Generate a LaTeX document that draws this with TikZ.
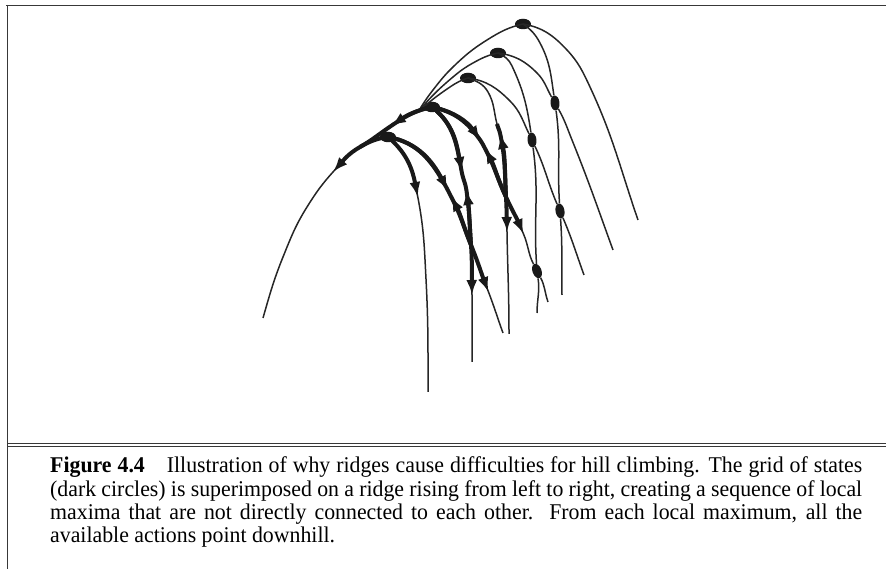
\documentclass[tikz,border=0pt]{standalone}
\usepackage{fontspec}
\setmainfont{Liberation Serif}
\newfontfamily\capfont{Liberation Serif}[FakeStretch=0.97]
\usetikzlibrary{arrows.meta, shapes.geometric}

\begin{document}
\begin{tikzpicture}[x=1pt, y=1pt,
    ridge/.style={line width=1.5pt, draw=black!85},
    act/.style={line width=4pt, draw=black!90},
    tip/.style={-{Latex[length=15pt,width=11pt]}},
    peak/.style={ellipse, fill=black!90, minimum width=16pt, minimum height=10.5pt, inner sep=0pt},
    state/.style={ellipse, fill=black!90, minimum width=9pt, minimum height=15pt, inner sep=0pt},
    frame/.style={line width=1.6pt, draw=black!78},
    caption/.style={text width=812pt, align=justify, inner sep=0pt,
        font=\capfont\fontsize{22.5}{23.2}\selectfont}
]
    \useasboundingbox (0,0) rectangle (886,569);
    % frame and rule above the caption
    \draw[frame] (6,563.3) -- (886,563.3);
    \draw[frame] (7.5,564.1) -- (7.5,0);
    \draw[frame, line width=1.3pt] (7.5,125.5) -- (886,125.5);
    \draw[frame, line width=1.3pt] (7.5,122.5) -- (886,122.5);

    % local maxima on the ridge
    \node[peak] (p1) at (388,432) {};
    \node[peak] (p2) at (432,462) {};
    \node[peak] (p3) at (468,491) {};
    \node[peak] (p4) at (498,516) {};
    \node[peak] (p5) at (523,545) {};
    % other grid states
    \node[state, rotate=5]  (z1) at (555,466) {};
    \node[state, rotate=6]  (z2) at (532,429) {};
    \node[state, rotate=10] (z3) at (560,358) {};
    \node[state, rotate=20] (z4) at (537,298) {};
    \coordinate (x1) at (471,324);
    \coordinate (y1) at (506,372);

    % points on the curves
    \coordinate (l1a) at (360,422);
    \coordinate (l1b) at (307,362);
    \coordinate (l1c) at (283,312);
    \coordinate (l1e) at (263,251);
    \coordinate (j2) at (418,457);
    \coordinate (l3a) at (450,482);
    \coordinate (l4a) at (473,506);
    \coordinate (l4b) at (453,492);
    \coordinate (l5a) at (487,529);
    \coordinate (l5b) at (453,502);
    \coordinate (l5c) at (433,479);
    \coordinate (s1m) at (426,290);
    \coordinate (s1e) at (428,177);
    \coordinate (s2e) at (472,207);
    \coordinate (w1e) at (503,236);
    \coordinate (s3a) at (488,477);
    \coordinate (s3b) at (497,445);
    \coordinate (s3e) at (509,235);
    \coordinate (w2e) at (548,267);
    \coordinate (w3a) at (510,468);
    \coordinate (w3e) at (584,294);
    \coordinate (s4a) at (512,503);
    \coordinate (s4e) at (537,256);
    \coordinate (w4a) at (537,496);
    \coordinate (w4b) at (572,429);
    \coordinate (w4e) at (613,319);
    \coordinate (s5a) at (540,526);
    \coordinate (s5e) at (562,274);
    \coordinate (w5a) at (567,519);
    \coordinate (w5b) at (590,482);
    \coordinate (w5e) at (638,349);

    % arrow tips
    \coordinate (a1) at (333,397);
    \coordinate (a2) at (391,443);
    \coordinate (a3) at (417.8,372);
    \coordinate (a4) at (448,378.5);
    \coordinate (a5) at (461.7,397);
    \coordinate (a6) at (480.5,428.5);
    \coordinate (a7) at (466.4,379);
    \coordinate (a8) at (451,372.5);
    \coordinate (a9) at (500.2,435);
    \coordinate (a10) at (485,420.5);
    \coordinate (a11) at (472,274);
    \coordinate (a12) at (488.5,277);
    \coordinate (a13) at (507,337);
    \coordinate (a14) at (523.5,335);

    % left flanks
    \draw[ridge] (p1.center) to[out=188,in=30] (l1a) to[out=210,in=48] (a1)
        to[out=228,in=58] (l1b) to[out=238,in=68] (l1c) to[out=248,in=74] (l1e);
    \draw[ridge] (p3.center) to[out=198,in=34] (l3a) to[out=214,in=42] (j2);
    \draw[ridge] (p4.center) to[out=192,in=29] (l4a) to[out=209,in=40] (l4b) to[out=220,in=50] (j2);
    \draw[ridge] (p5.center) to[out=193,in=32] (l5a) to[out=212,in=44] (l5b)
        to[out=224,in=52] (l5c) to[out=232,in=58] (j2);

    % right flanks
    \draw[ridge] (p1.center) to[out=-40,in=101] (a3) to[out=-79,in=93] (s1m) to[out=-87,in=90] (s1e);
    \draw[ridge] (p1.center) to[out=-10,in=118] (a4) to[out=-62,in=118] (a8)
        to[out=-62,in=112] (x1) to[out=-68,in=111] (a12) to[out=-69,in=110] (w1e);
    \draw[ridge] (p2.center) to[out=-38,in=100] (a5) to[out=-80,in=98] (a7)
        to[out=-82,in=94] (x1) to[out=-86,in=91] (a11) to[out=-89,in=90] (s2e);
    \draw[ridge] (p2.center) to[out=-12,in=125] (a6) to[out=-55,in=118] (a10)
        to[out=-62,in=115] (y1) to[out=-65,in=113] (a14) to[out=-67,in=110] (z4) to[out=-70,in=109] (w2e);
    \draw[ridge] (p3.center) to[out=-20,in=120] (s3a) to[out=-60,in=105] (s3b) to[out=-75,in=102] (a9)
        to[out=-78,in=93] (y1) to[out=-87,in=91] (a13) to[out=-89,in=90] (s3e);
    \draw[ridge] (p3.center) to[out=-8,in=135] (w3a) to[out=-45,in=114] (z2)
        to[out=-66,in=111] (z3) to[out=-69,in=110] (w3e);
    \draw[ridge] (p4.center) to[out=-25,in=115] (s4a) to[out=-65,in=97] (z2)
        to[out=-83,in=91] (z4) to[out=-89,in=90] (s4e);
    \draw[ridge] (p4.center) to[out=-8,in=135] (w4a) to[out=-45,in=118] (z1)
        to[out=-62,in=112] (w4b) to[out=-68,in=110] (w4e);
    \draw[ridge] (p5.center) to[out=-35,in=118] (s5a) to[out=-62,in=97] (z1)
        to[out=-83,in=92] (z3) to[out=-88,in=91] (s5e);
    \draw[ridge] (p5.center) to[out=-10,in=133] (w5a) to[out=-47,in=115] (w5b) to[out=-65,in=109] (w5e);

    % actions from the local maxima
    \draw[act, tip] (p1.center) to[out=188,in=30] (l1a) to[out=210,in=48] (a1);
    \draw[act, tip] (p1.center) to[out=-40,in=101] (a3);
    \draw[act, tip] (p1.center) to[out=-10,in=118] (a4) to[out=-62,in=118] (a8)
        to[out=-62,in=112] (x1) to[out=-68,in=111] (a12);
    \draw[act, tip] (x1) to[out=112,in=-62] (a8);
    \draw[act, tip] (p1.center) to[out=-10,in=118] (a4);
    \draw[act] (p2.center) to[out=192,in=34] (a2) to[out=214,in=30] (l1a);
    \draw[act, tip] (p2.center) to[out=192,in=34] (a2);
    \draw[act, tip] (p2.center) to[out=-38,in=100] (a5) to[out=-80,in=98] (a7)
        to[out=-82,in=94] (x1) to[out=-86,in=91] (a11);
    \draw[act, tip] (x1) to[out=94,in=-82] (a7);
    \draw[act, tip] (p2.center) to[out=-38,in=100] (a5);
    \draw[act, tip] (p2.center) to[out=-12,in=125] (a6) to[out=-55,in=118] (a10)
        to[out=-62,in=115] (y1) to[out=-65,in=113] (a14);
    \draw[act, tip] (y1) to[out=115,in=-62] (a10);
    \draw[act, tip] (p2.center) to[out=-12,in=125] (a6);
    \draw[act, tip] (s3b) to[out=-75,in=102] (a9) to[out=-78,in=93] (y1) to[out=-87,in=91] (a13);
    \draw[act, tip] (y1) to[out=93,in=-78] (a9);

    \node[caption, anchor=base west] (cap) at (50,96) {\textbf{Figure 4.4}\hspace*{22pt}Illustration of why ridges cause difficulties for hill climbing. The grid of states\linebreak
        (dark circles) is superimposed on a ridge rising from left to right, creating a sequence of local\linebreak
        maxima that are not directly connected to each other.\ \ From each local maximum, all the\linebreak
        available actions point downhill.};
\end{tikzpicture}
\end{document}
